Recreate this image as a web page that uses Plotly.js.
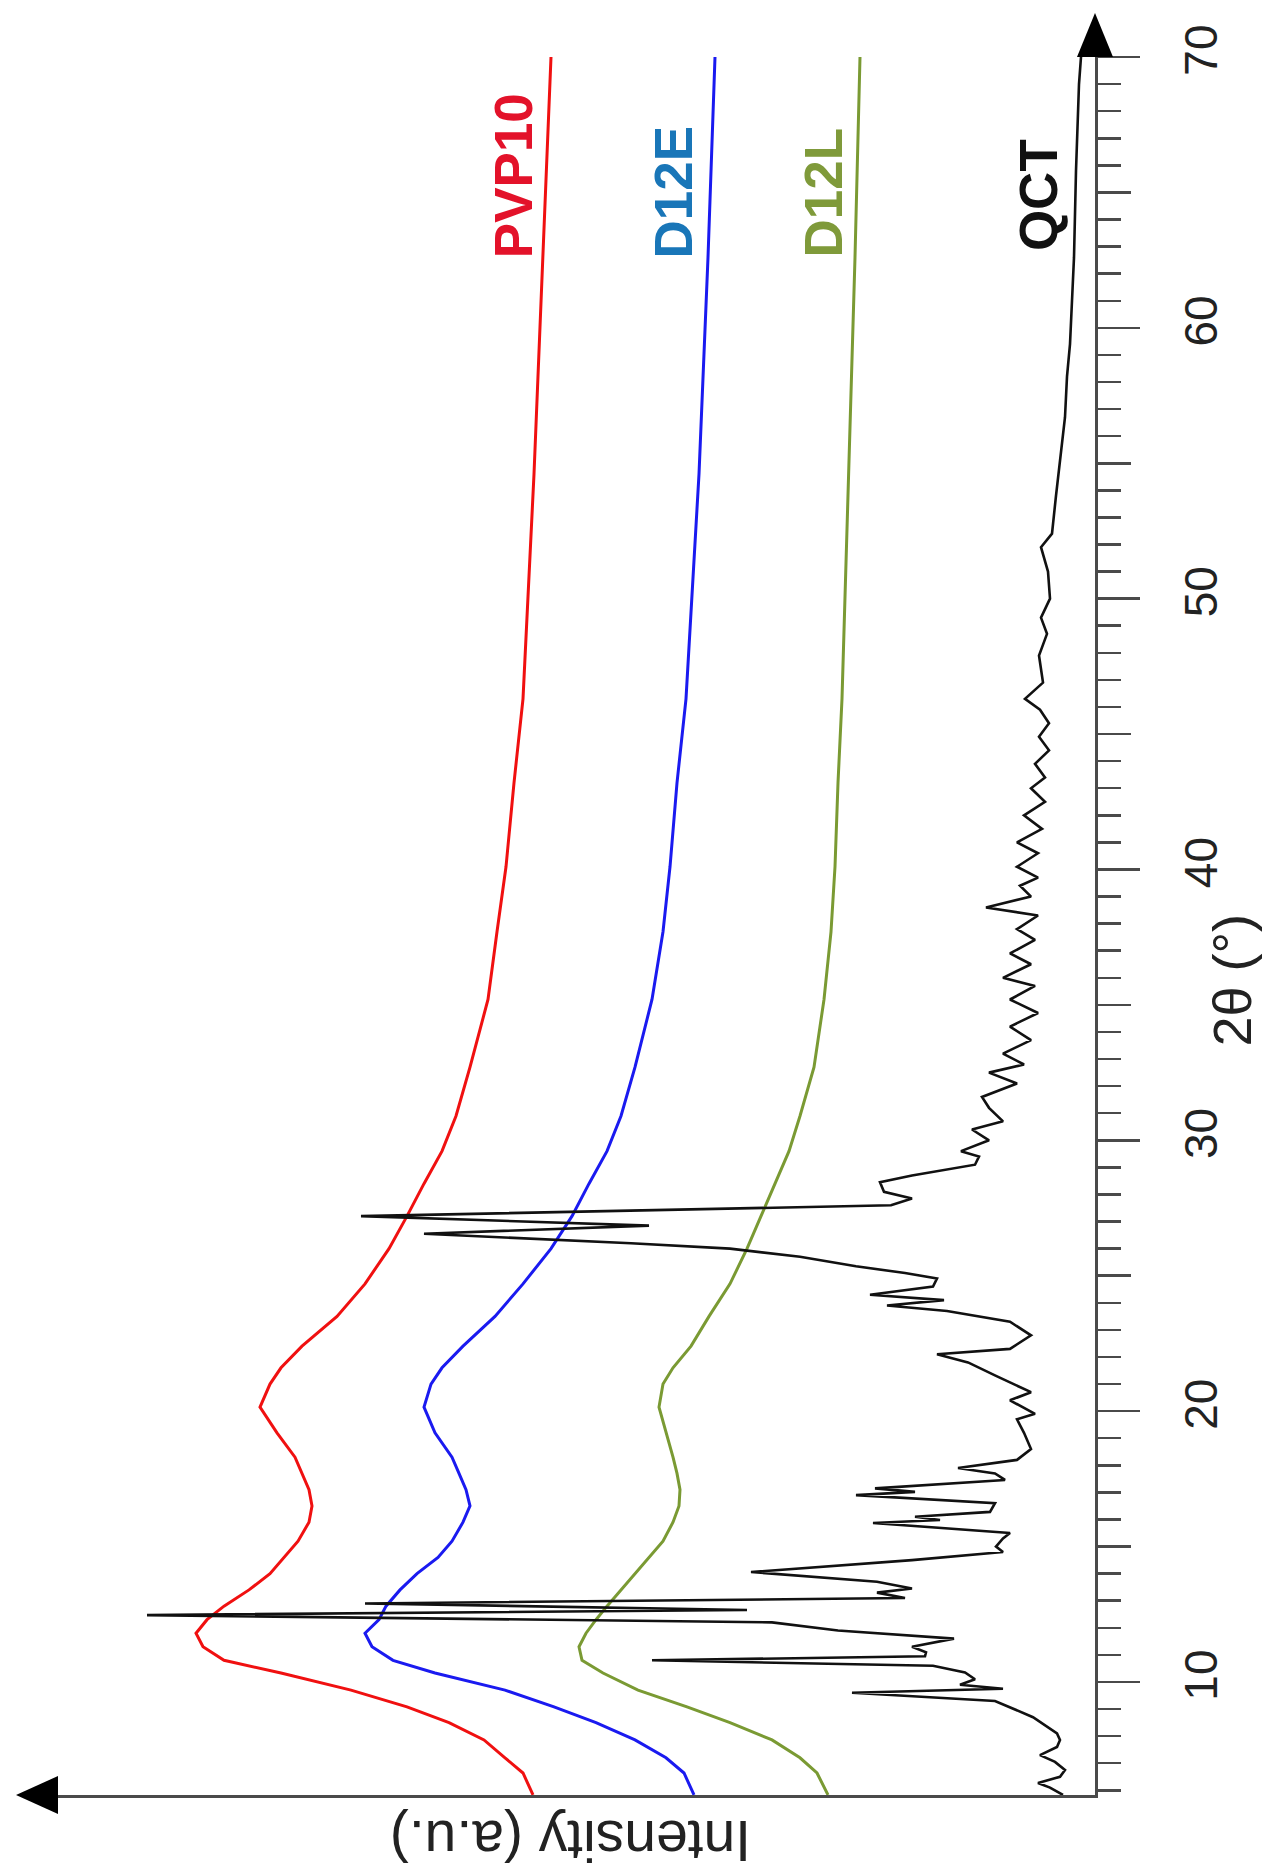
<!DOCTYPE html>
<html>
<head>
<meta charset="utf-8">
<script src="https://cdn.plot.ly/plotly-3.0.1.min.js"></script>
<style>
  html, body { margin: 0; padding: 0; background: #ffffff; }
  #chart { width: 1271px; height: 1876px; }
</style>
</head>
<body>
<div id="chart"></div>
<script>
// ---- Data (2θ in degrees, intensity in arbitrary units) ----
const seriesNames = ["PVP10", "D12E", "D12L", "QCT"];

const pvp10Theta = [5.83, 6.64, 7.2, 7.86, 8.5, 9.08, 9.7, 10.33, 10.8, 11.3, 11.8, 12.3, 12.8, 13.4, 14.0, 14.6, 15.2, 15.9, 16.5, 17.1, 17.7, 18.3, 19.2, 20.15, 21.0, 21.6, 22.4, 23.5, 24.7, 26.0, 27.2, 28.4, 29.6, 30.9, 32.7, 35.2, 37.7, 40.1, 43.2, 46.3, 54.6, 62.6, 70];
const pvp10Int   = [56.2, 57.2, 59.0, 61.1, 64.6, 68.8, 74.4, 81.4, 87.1, 89.2, 89.9, 88.8, 87.1, 84.6, 82.5, 81.1, 79.7, 78.6, 78.3, 78.6, 79.3, 80.0, 81.8, 83.5, 82.5, 81.4, 79.3, 75.8, 73.0, 70.6, 68.8, 67.1, 65.3, 63.9, 62.5, 60.7, 59.8, 58.9, 58.1, 57.2, 56.1, 55.2, 54.4];

const d12eTheta = [5.83, 6.64, 7.2, 7.86, 8.5, 9.08, 9.7, 10.33, 10.8, 11.3, 11.8, 12.3, 12.8, 13.4, 14.0, 14.6, 15.2, 15.9, 16.5, 17.1, 17.7, 18.3, 19.2, 20.15, 21.0, 21.6, 22.4, 23.5, 24.7, 26.0, 27.2, 28.4, 29.6, 30.9, 32.7, 35.2, 37.7, 40.1, 43.2, 46.3, 54.6, 62.6, 70];
const d12eInt   = [40.1, 41.1, 42.9, 46.0, 49.9, 54.1, 59.0, 66.0, 70.2, 72.3, 73.0, 71.6, 70.9, 69.5, 67.8, 65.7, 64.3, 63.2, 62.5, 62.9, 63.6, 64.3, 66.0, 67.1, 66.4, 65.3, 63.2, 60.0, 57.2, 54.4, 52.3, 50.6, 48.8, 47.4, 46.0, 44.3, 43.2, 42.5, 41.8, 40.9, 39.6, 38.7, 38.0];

const d12lTheta = [5.83, 6.64, 7.2, 7.86, 8.5, 9.08, 9.7, 10.33, 10.8, 11.3, 11.8, 12.3, 12.8, 13.4, 14.0, 14.6, 15.2, 15.9, 16.5, 17.1, 17.7, 18.3, 19.2, 20.15, 21.0, 21.6, 22.4, 23.5, 24.7, 26.0, 27.2, 28.4, 29.6, 30.9, 32.7, 35.2, 37.7, 40.1, 43.2, 46.3, 54.6, 62.6, 70];
const d12lInt   = [26.7, 27.8, 29.5, 32.3, 36.5, 40.8, 45.7, 49.2, 51.3, 51.6, 50.9, 49.9, 48.8, 47.4, 46.0, 44.6, 43.2, 42.2, 41.6, 41.5, 41.8, 42.2, 42.9, 43.6, 43.2, 42.2, 40.4, 38.6, 36.5, 34.8, 33.4, 32.0, 30.6, 29.5, 28.1, 27.1, 26.4, 26.0, 25.7, 25.3, 24.6, 24.0, 23.5];

const qctTheta = [5.83, 6.1, 6.27, 6.5, 6.75, 7.05, 7.3, 7.6, 7.86, 8.1, 8.7, 9.08, 9.3, 9.6, 9.75, 9.9, 10.1, 10.35, 10.6, 10.8, 10.95, 11.1, 11.3, 11.6, 11.9, 12.2, 12.47, 12.66, 12.9, 13.1, 13.3, 13.45, 13.7, 14.06, 14.3, 14.5, 14.8, 15.0, 15.3, 15.5, 15.87, 15.98, 16.1, 16.28, 16.6, 16.9, 17.02, 17.15, 17.46, 17.7, 17.9, 18.2, 18.6, 19.2, 19.7, 19.9, 20.4, 20.7, 21.3, 21.8, 22.1, 22.3, 22.8, 23.3, 23.7, 23.9, 24.1, 24.3, 24.6, 24.9, 25.1, 25.35, 25.7, 26.0, 26.2, 26.55, 26.85, 27.2, 27.6, 27.85, 28.1, 28.45, 28.7, 29.1, 29.4, 29.6, 30.0, 30.4, 30.7, 31.2, 31.6, 32.1, 32.5, 32.8, 33.2, 33.7, 34.2, 34.7, 35.2, 35.7, 36.0, 36.5, 36.9, 37.4, 37.8, 38.3, 38.6, 39.0, 39.4, 39.7, 40.1, 40.6, 41.0, 41.5, 42.0, 42.5, 43.0, 43.4, 43.9, 44.4, 44.9, 45.4, 45.9, 46.3, 46.9, 47.9, 48.7, 49.3, 50.0, 51.0, 51.9, 52.4, 53.8, 55.3, 56.7, 58.2, 59.4, 61.0, 62.6, 65.8, 69.0, 70];
const qctInt   = [3.2, 4.5, 5.7, 3.5, 3.0, 4.0, 5.5, 3.8, 3.5, 3.8, 6.2, 8.5, 10.0, 24.3, 9.2, 13.5, 12.0, 13.0, 16.2, 44.3, 17.0, 16.9, 18.3, 14.1, 25.7, 32.3, 94.8, 34.8, 73.0, 19.0, 21.8, 18.3, 21.8, 34.4, 25.3, 18.3, 9.2, 9.9, 9.2, 8.5, 22.2, 15.5, 18.0, 10.5, 10.0, 23.9, 18.0, 22.0, 9.0, 10.0, 13.7, 7.8, 6.4, 7.1, 7.8, 6.0, 8.5, 6.4, 9.9, 12.7, 15.8, 8.5, 6.4, 8.5, 14.8, 20.8, 15.1, 22.5, 16.2, 15.8, 19.0, 23.9, 29.5, 36.5, 46.4, 67.1, 44.6, 73.4, 20.4, 18.3, 21.1, 21.5, 18.3, 12.0, 11.6, 13.4, 10.6, 12.3, 9.2, 10.6, 11.3, 7.8, 10.6, 7.1, 9.2, 6.4, 8.5, 5.7, 8.5, 6.0, 9.2, 6.4, 8.5, 6.0, 7.8, 5.7, 10.9, 6.4, 7.5, 5.7, 7.8, 5.7, 7.8, 5.3, 7.1, 5.0, 6.4, 5.0, 6.0, 4.6, 5.6, 4.6, 5.5, 7.0, 5.2, 5.6, 4.8, 5.4, 4.5, 4.7, 5.4, 4.3, 3.9, 3.4, 3.0, 2.8, 2.5, 2.3, 2.1, 1.9, 1.6, 1.4];

const majorTicks = [10, 20, 30, 40, 50, 60, 70];
const majorTickText = ["10", "20", "30", "40", "50", "60", "70"];
const midTicks = [15, 25, 35, 45, 55, 65];

const thetaRange = [5.827, 70];
const intensityRange = [103.7, 0];

// ---- Styling ----
const FONT = "Liberation Sans, Arial, Helvetica, sans-serif";
const AXIS_COLOR = "#4a4a4a";

const lineColors = { PVP10: "#f01010", D12E: "#1a1af0", D12L: "#7a9a33", QCT: "#111111" };
const labelColors = { PVP10: "#e3122a", D12E: "#1976b8", D12L: "#7f9a3a", QCT: "#111111" };

const traces = [
  { name: "PVP10", x: pvp10Int, y: pvp10Theta, type: "scatter", mode: "lines",
    line: { color: lineColors.PVP10, width: 3 }, hoverinfo: "x+y" },
  { name: "D12E", x: d12eInt, y: d12eTheta, type: "scatter", mode: "lines",
    line: { color: lineColors.D12E, width: 3 }, hoverinfo: "x+y" },
  { name: "D12L", x: d12lInt, y: d12lTheta, type: "scatter", mode: "lines",
    line: { color: lineColors.D12L, width: 3 }, hoverinfo: "x+y" },
  { name: "QCT", x: qctInt, y: qctTheta, type: "scatter", mode: "lines",
    line: { color: lineColors.QCT, width: 2.6 }, hoverinfo: "x+y" },
  // helper (empty) trace so the overlaying axis carrying the 5-degree ticks is drawn
  { x: [], y: [], yaxis: "y2", type: "scatter", mode: "lines", showlegend: false, hoverinfo: "skip" }
];

const labelAnnotations = [
  { text: "<b>PVP10</b>", x: 58.2, y: 65.6, color: labelColors.PVP10 },
  { text: "<b>D12E</b>",  x: 42.2, y: 65.0, color: labelColors.D12E },
  { text: "<b>D12L</b>",  x: 27.2, y: 65.0, color: labelColors.D12L },
  { text: "<b>QCT</b>",   x: 5.7,  y: 64.9, color: labelColors.QCT }
].map(a => ({
  text: a.text, x: a.x, y: a.y, xref: "x", yref: "y", showarrow: false,
  textangle: -90, xanchor: "center", yanchor: "middle",
  font: { family: FONT, size: 53, color: a.color }
}));

const layout = {
  width: 1271,
  height: 1876,
  margin: { l: 58, r: 176, t: 57, b: 81, pad: 0 },
  paper_bgcolor: "#ffffff",
  plot_bgcolor: "#ffffff",
  showlegend: false,
  xaxis: {
    range: intensityRange,
    showline: true, linecolor: AXIS_COLOR, linewidth: 3,
    showticklabels: false, ticks: "", showgrid: false, zeroline: false
  },
  yaxis: {
    range: thetaRange,
    side: "right",
    showline: true, linecolor: AXIS_COLOR, linewidth: 3,
    tickmode: "array", tickvals: majorTicks, ticktext: majorTickText,
    ticks: "outside", ticklen: 42, tickwidth: 2.5, tickcolor: AXIS_COLOR,
    tickangle: -90, ticklabelstandoff: 22,
    tickfont: { family: FONT, size: 46, color: "#222222" },
    minor: { ticks: "outside", tick0: 0, dtick: 1, ticklen: 23, tickwidth: 2.5, tickcolor: AXIS_COLOR, showgrid: false },
    showgrid: false, zeroline: false
  },
  yaxis2: {
    range: thetaRange,
    overlaying: "y", side: "right", anchor: "x",
    tickmode: "array", tickvals: midTicks,
    ticks: "outside", ticklen: 35, tickwidth: 2.5, tickcolor: AXIS_COLOR,
    showticklabels: false, showline: false, showgrid: false, zeroline: false
  },
  annotations: labelAnnotations.concat([
    { text: "2θ (°)", xref: "paper", x: 1, xshift: 137, yref: "y", y: 35.9,
      showarrow: false, textangle: -90, xanchor: "center", yanchor: "middle",
      font: { family: FONT, size: 54, color: "#222222" } },
    { text: "Intensity (a.u.)", xref: "x", x: 52.4, yref: "paper", y: 0, yshift: -46,
      showarrow: false, textangle: 180, xanchor: "center", yanchor: "middle",
      font: { family: FONT, size: 57, color: "#222222" } }
  ]),
  shapes: [
    // arrow heads at the ends of the two axes
    { type: "path", xref: "paper", yref: "paper",
      path: "M 1,1.0253 L 0.98264,1.0 L 1.01736,1.0 Z",
      fillcolor: "#000000", line: { width: 0 } },
    { type: "path", xref: "paper", yref: "paper",
      path: "M -0.0405,0 L 0,0.01093 L 0,-0.01093 Z",
      fillcolor: "#000000", line: { width: 0 } }
  ]
};

Plotly.newPlot("chart", traces, layout, { displayModeBar: false, staticPlot: true });
</script>
</body>
</html>
